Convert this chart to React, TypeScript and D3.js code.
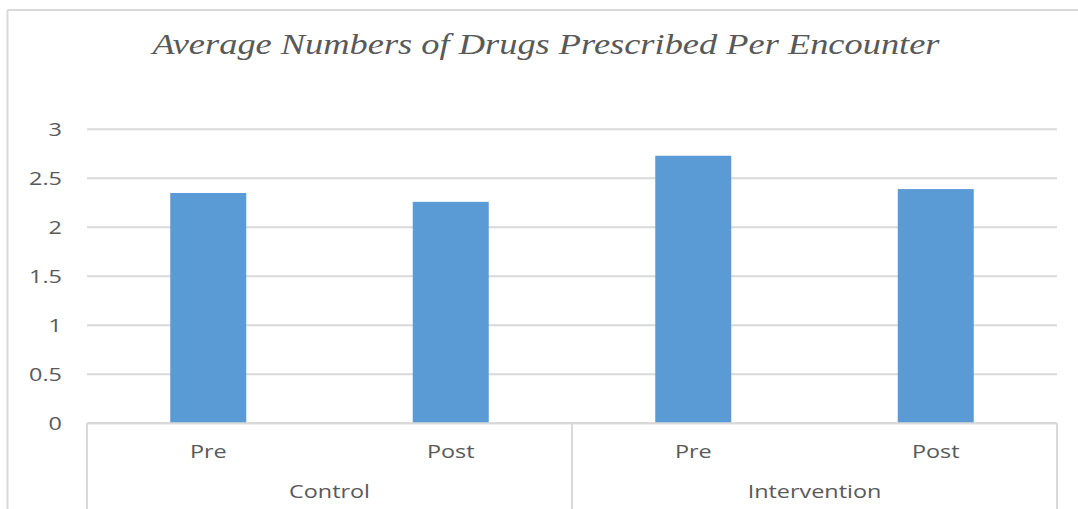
import React from "react";
import * as d3 from "d3";

const groups = ["Control", "Intervention"];
const phases = ["Pre", "Post"];
const categories = ["Control|Pre", "Control|Post", "Intervention|Pre", "Intervention|Post"];
const values = [2.35, 2.26, 2.73, 2.39];
const yTicks = [0, 0.5, 1, 1.5, 2, 2.5, 3];
const title = "Average Numbers of Drugs Prescribed Per Encounter";

const W = 1078;
const H = 509;
const left = 87;
const right = 1057;
const y0 = 423.3;
const y3 = 129.3;
const grid = "#d9d9d9";
const textColor = "#595959";
const barColor = "#5B9BD5";
const sx = 1.3;
const sans = "'Open Sans', 'Liberation Sans', sans-serif";

export default function App() {
  const p = 0.6866;
  const x = d3.scaleBand<string>().domain(categories).range([left, right]).paddingInner(p).paddingOuter(p / 2);
  const y = d3.scaleLinear().domain([0, 3]).range([y0, y3]);
  const groupX = d3.scaleBand<string>().domain(groups).range([left, right]);

  const stretchText = (cx: number, cy: number, s: string, size: number, anchor: string, key: string) => (
    <text
      key={key}
      transform={`translate(${cx},${cy}) scale(${sx},1)`}
      textAnchor={anchor}
      fontFamily={sans}
      fontSize={size}
      fill={textColor}
    >
      {s}
    </text>
  );

  return (
    <svg
      width={W}
      height={H}
      style={{ position: "absolute", left: 0, top: 0, background: "#fff", display: "block" }}
    >
      {/* outer frame */}
      <line x1={7.5} x2={W} y1={10} y2={10} stroke={grid} strokeWidth={2} />
      <line x1={7.5} x2={7.5} y1={10} y2={H} stroke={grid} strokeWidth={2} />

      <text
        x={546}
        y={54}
        textAnchor="middle"
        fontFamily="'Liberation Serif', 'DejaVu Serif', serif"
        fontStyle="italic"
        fontSize={30}
        fill={textColor}
        textLength={787}
        lengthAdjust="spacingAndGlyphs"
      >
        {title}
      </text>

      {/* gridlines */}
      {yTicks.map((t) => (
        <line key={"g" + t} x1={left} x2={right} y1={y(t)} y2={y(t)} stroke={grid} strokeWidth={2} />
      ))}
      {yTicks.map((t) => stretchText(62, y(t) + 6.5, String(t), 18, "end", "t" + t))}

      {/* bars */}
      {categories.map((c, i) => (
        <rect
          key={c}
          x={x(c)}
          y={y(values[i])}
          width={x.bandwidth()}
          height={y(0) - y(values[i])}
          fill={barColor}
        />
      ))}

      {/* category axis box */}
      <line x1={left} x2={right} y1={y0} y2={y0} stroke={grid} strokeWidth={2} />
      {[left, groupX("Intervention")!, right].map((v, i) => (
        <line key={"v" + i} x1={v} x2={v} y1={y0} y2={H} stroke={grid} strokeWidth={2} />
      ))}
      {categories.map((c) =>
        stretchText(x(c)! + x.bandwidth() / 2, 457.5, c.split("|")[1], 18, "middle", "c" + c)
      )}
      {groups.map((g) => stretchText(groupX(g)! + groupX.bandwidth() / 2, 498, g, 18, "middle", "gr" + g))}
    </svg>
  );
}
